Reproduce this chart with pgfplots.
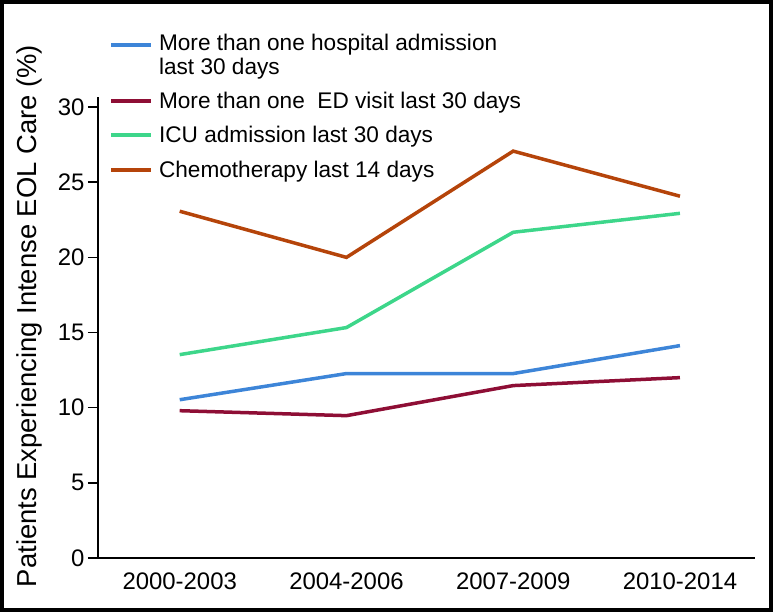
\documentclass[border=0pt]{standalone}
\usepackage{pgfplots}
\pgfplotsset{compat=1.18}
\usepackage{fontspec}
\setmainfont{Liberation Sans}
\definecolor{cBlue}{HTML}{3D85D8}
\definecolor{cRed}{HTML}{8E0E35}
\definecolor{cGreen}{HTML}{3DD68A}
\definecolor{cOrange}{HTML}{B5440A}
\begin{document}
\begin{tikzpicture}
\begin{axis}[
  scale only axis,
  width=657bp, height=461bp,
  xmin=-0.49, xmax=3.45,
  ymin=0, ymax=30.67,
  axis x line*=bottom, axis y line*=left,
  axis line style={-, line width=2bp, black},
  xtick={0,1,2,3},
  xticklabels={2000-2003,2004-2006,2007-2009,2010-2014},
  x tick style={draw=none},
  ytick={0,5,10,15,20,25,30},
  y tick style={line width=1.5bp, black},
  tick align=outside,
  major tick length=10bp,
  /pgf/number format/assume math mode=true,
  ticklabel style={font=\fontsize{24}{28}\selectfont},
  xticklabel style={yshift=-1bp},
  ylabel={Patients Experiencing Intense EOL Care (\%)},
  ylabel style={font=\fontsize{27.5}{30}\selectfont, at={(axis description cs:-0.105,0.525)}, anchor=center},
  clip=false,
  legend style={at={(axis description cs:0.012,1.146)}, anchor=north west, draw=none, fill=none,
    font=\fontsize{22.7}{24}\selectfont, row sep=12.5bp, cells={anchor=west, align=left}},
  legend cell align=left,
  legend image code/.code={\path[draw=none,fill=none] (0bp,-8bp) rectangle (46bp,8bp); \draw[line width=4bp] (0bp,0bp) -- (40bp,0bp);},
]
\addplot[cBlue, line width=3.5bp, legend image code/.code={\path[draw=none,fill=none] (0bp,-12bp) rectangle (46bp,12bp); \draw[line width=4bp] (0bp,10bp) -- (40bp,10bp);}] coordinates {(0,10.53) (1,12.27) (2,12.27) (3,14.13)};
\addlegendentry{More than one hospital admission\\last 30 days}
\addplot[cRed, line width=3.5bp] coordinates {(0,9.8) (1,9.47) (2,11.47) (3,12.0)};
\addlegendentry{More than one\ \ ED visit last 30 days}
\addplot[cGreen, line width=3.5bp] coordinates {(0,13.53) (1,15.33) (2,21.67) (3,22.93)};
\addlegendentry{ICU admission last 30 days}
\addplot[cOrange, line width=3.5bp] coordinates {(0,23.07) (1,20.0) (2,27.07) (3,24.07)};
\addlegendentry{Chemotherapy last 14 days}
\end{axis}
\draw[line width=4bp] ([xshift=-96bp,yshift=-52bp]current axis.south west) rectangle ([xshift=16bp,yshift=95bp]current axis.north east);
\end{tikzpicture}
\end{document}
